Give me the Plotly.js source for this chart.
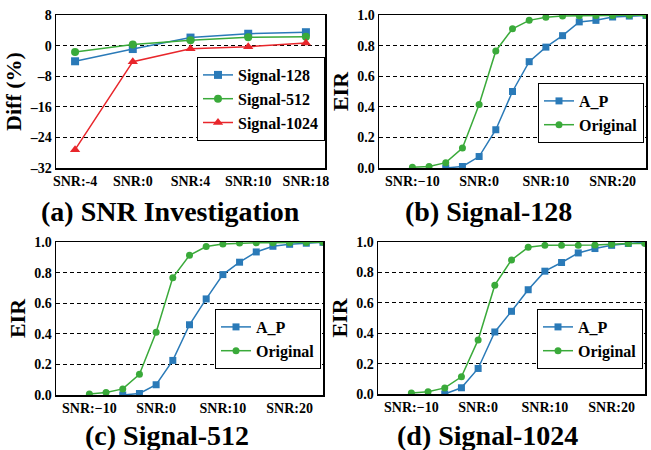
<!DOCTYPE html>
<html>
<head>
<meta charset="utf-8">
<script src="https://cdn.plot.ly/plotly-3.0.1.min.js"></script>
<style>html,body{margin:0;padding:0;background:#fff;}#chart{width:651px;height:450px;}</style>
</head>
<body>
<div id="chart"></div>
<script>
// ---- data ----
var snrCats = ['SNR:-4', 'SNR:0', 'SNR:4', 'SNR:10', 'SNR:18'];
var diff128 = [-4.1, -0.9, 2.1, 3.1, 3.5];
var diff512 = [-1.7, 0.3, 1.4, 2.2, 2.3];
var diff1024 = [-27.2, -4.2, -0.8, -0.3, 0.7];
var diffTickVals = [8, 0, -8, -16, -24, -32];
var diffTickText = ['8', '0', '\u20138', '\u201316', '\u201324', '\u201332'];

var snrOrig = [-10, -7.5, -5, -2.5, 0, 2.5, 5, 7.5, 10, 12.5, 15, 17.5, 20, 22.5, 25];
var snrAP = [-5, -2.5, 0, 2.5, 5, 7.5, 10, 12.5, 15, 17.5, 20, 22.5, 25];

var orig128 = [0.005, 0.01, 0.035, 0.13, 0.415, 0.765, 0.91, 0.965, 0.985, 0.993, 0.995, 0.997, 0.997, 0.998, 0.998];
var ap128 = [0, 0.01, 0.075, 0.25, 0.5, 0.695, 0.79, 0.865, 0.955, 0.965, 0.987, 0.993, 0.997];

var orig512 = [0.007, 0.017, 0.04, 0.135, 0.41, 0.767, 0.913, 0.97, 0.987, 0.993, 0.995, 0.995, 0.995, 0.997, 0.998];
var ap512 = [0, 0.01, 0.067, 0.226, 0.459, 0.628, 0.787, 0.868, 0.935, 0.972, 0.985, 0.992, 0.998];

var orig1024 = [0.007, 0.015, 0.04, 0.113, 0.356, 0.716, 0.882, 0.965, 0.978, 0.978, 0.978, 0.98, 0.985, 0.99, 0.99];
var ap1024 = [0, 0.041, 0.168, 0.408, 0.544, 0.686, 0.808, 0.865, 0.928, 0.957, 0.978, 0.99, 1.0];

var eirTickVals = [-10, 0, 10, 20];
var eirTickText = ['SNR:\u221210', 'SNR:0', 'SNR:10', 'SNR:20'];

// ---- styles ----
var BLUE = '#2a7ab8', GREEN = '#3aaa3a', RED = '#e8262b';
var FONT = '"Liberation Serif", "Times New Roman", serif';

function line(x, y, name, color, symbol, size, xa, ya, legend) {
  return {
    type: 'scatter', mode: 'lines+markers', x: x, y: y, name: name,
    xaxis: xa, yaxis: ya, legend: legend,
    line: {color: color, width: 1.5},
    marker: {color: color, symbol: symbol, size: size}
  };
}

var data = [
  line(snrCats, diff128, 'Signal-128', BLUE, 'square', 8, 'x', 'y', 'legend'),
  line(snrCats, diff512, 'Signal-512', GREEN, 'circle', 8, 'x', 'y', 'legend'),
  line(snrCats, diff1024, 'Signal-1024', RED, 'triangle-up', 9, 'x', 'y', 'legend'),
  line(snrAP, ap128, 'A_P', BLUE, 'square', 7, 'x2', 'y2', 'legend2'),
  line(snrOrig, orig128, 'Original', GREEN, 'circle', 7, 'x2', 'y2', 'legend2'),
  line(snrAP, ap512, 'A_P', BLUE, 'square', 7, 'x3', 'y3', 'legend3'),
  line(snrOrig, orig512, 'Original', GREEN, 'circle', 7, 'x3', 'y3', 'legend3'),
  line(snrAP, ap1024, 'A_P', BLUE, 'square', 7, 'x4', 'y4', 'legend4'),
  line(snrOrig, orig1024, 'Original', GREEN, 'circle', 7, 'x4', 'y4', 'legend4')
];

var W = 651, H = 450;
function dx(a, b) { return [a / W, b / W]; }
function dy(top, bottom) { return [(H - bottom) / H, (H - top) / H]; }
var TICKFONT = {size: 14, family: FONT, color: 'black', weight: 700};
var TITLEFONT = {size: 22, family: FONT, color: 'black', weight: 700};

function xAxis(dom, anchor, extra) {
  var a = {
    domain: dom, anchor: anchor, showline: true, mirror: true, linecolor: 'black', linewidth: 1.5,
    showgrid: false, zeroline: false, ticks: '', tickfont: TICKFONT
  };
  for (var k in extra) a[k] = extra[k];
  return a;
}
function yAxis(dom, anchor, extra) {
  var a = {
    domain: dom, anchor: anchor, showline: true, mirror: true, linecolor: 'black', linewidth: 1.5,
    showgrid: true, gridcolor: 'black', gridwidth: 1, griddash: '4px,3px', zeroline: false, ticks: '',
    tickfont: TICKFONT
  };
  for (var k in extra) a[k] = extra[k];
  return a;
}
function eirX(dom, anchor) {
  return xAxis(dom, anchor, {range: [-15, 25], tickmode: 'array', tickvals: eirTickVals, ticktext: eirTickText});
}
function eirY(dom, anchor) {
  return yAxis(dom, anchor, {range: [0, 1], dtick: 0.2, tickformat: '.1f',
    title: {text: 'EIR', font: TITLEFONT, standoff: 2}});
}
function legendAt(cx, cy, size) {
  return {x: cx / W, y: (H - cy) / H, xanchor: 'center', yanchor: 'middle', bgcolor: 'white',
    bordercolor: 'black', borderwidth: 1, font: {size: size, family: FONT, color: 'black', weight: 700},
    tracegroupgap: 0, itemwidth: 30};
}

var layout = {
  width: W, height: H, autosize: false,
  margin: {l: 0, r: 0, t: 0, b: 0},
  paper_bgcolor: 'white', plot_bgcolor: 'white',
  font: {family: FONT, color: 'black', weight: 700},
  xaxis: xAxis(dx(56, 325), 'y', {type: 'category'}),
  yaxis: yAxis(dy(15, 168), 'x', {range: [-32, 8], tickmode: 'array', tickvals: diffTickVals, ticktext: diffTickText,
    title: {text: 'Diff (%)', font: TITLEFONT, standoff: 2}}),
  xaxis2: eirX(dx(379, 646), 'y2'),
  yaxis2: eirY(dy(15, 168), 'x2'),
  xaxis3: eirX(dx(56, 323), 'y3'),
  yaxis3: eirY(dy(242, 395), 'x3'),
  xaxis4: eirX(dx(378, 645), 'y4'),
  yaxis4: eirY(dy(242, 394), 'x4'),
  legend: legendAt(261, 99, 16),
  legend2: legendAt(591, 113, 16),
  legend3: legendAt(268, 339, 16),
  legend4: legendAt(590, 339, 16),
  annotations: [
    {text: '(a) SNR Investigation', x: 171 / W, y: (H - 211) / H},
    {text: '(b) Signal-128', x: 488 / W, y: (H - 211) / H},
    {text: '(c) Signal-512', x: 167 / W, y: (H - 435) / H},
    {text: '(d) Signal-1024', x: 487 / W, y: (H - 435) / H}
  ].map(function (a) {
    a.xref = 'paper'; a.yref = 'paper'; a.showarrow = false; a.xanchor = 'center'; a.yanchor = 'middle';
    a.font = {size: 28, family: FONT, color: 'black', weight: 700};
    return a;
  })
};

Plotly.newPlot('chart', data, layout, {staticPlot: true, displayModeBar: false});
</script>
</body>
</html>
